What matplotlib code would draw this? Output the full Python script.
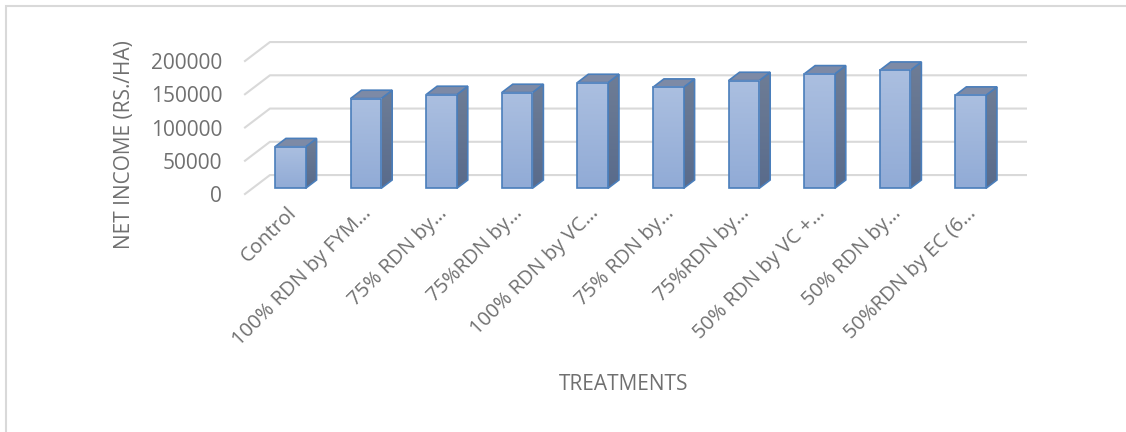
import numpy as np
import matplotlib
matplotlib.use('Agg')
import matplotlib.pyplot as plt
from matplotlib.patches import Polygon, Rectangle
from matplotlib.colors import LinearSegmentedColormap
from matplotlib.transforms import ScaledTranslation

plt.rcParams['font.family'] = ['Open Sans', 'DejaVu Sans']

# data
treatments = ['Control', '100% RDN by FYM…', '75% RDN by…', '75%RDN by…',
              '100% RDN by VC…', '75% RDN by…', '75%RDN by…',
              '50% RDN by VC +…', '50% RDN by…', '50%RDN by EC (6…']
net_income = [62500, 135000, 141000, 144000, 159000, 152000, 162000,
              172000, 177500, 140000]
y_ticks = [0, 50000, 100000, 150000, 200000]

# look of the excel 3d column
txt_col = '#707070'
grid_col = '#d9d9d9'
edge_col = '#4a7ebb'
front_cmap = LinearSegmentedColormap.from_list('front', ['#91abd6', '#abbfe0'])
side_cmap = LinearSegmentedColormap.from_list('side', ['#596b8b', '#6e7d96'])
top_col = '#7d8aa6'
bar_w = 0.405
DX = 0.33       # depth of floor, in category units
DY = 28500      # depth of floor, in value units
d0, d1 = 0.3, 0.74   # bar front/back as fraction of depth

fig = plt.figure(figsize=(11.26, 4.32), dpi=100)
ax = fig.add_axes([245 / 1126, 1 - 194 / 432, 756 / 1126, 133 / 432])
ax.set_facecolor('none')
for s in ax.spines.values():
    s.set_visible(False)

n = len(treatments)
# side wall + back wall gridlines
for v in y_ticks:
    ax.plot([-0.5, -0.5 + DX, n - 0.5 + DX], [v, v + DY, v + DY],
            color=grid_col, lw=1.5, clip_on=False, zorder=1)

for i, v in enumerate(net_income):
    xl = i - bar_w / 2 + d0 * DX
    xr = i + bar_w / 2 + d0 * DX
    yb = d0 * DY
    yt = v + d0 * DY
    ddx = (d1 - d0) * DX
    ddy = (d1 - d0) * DY
    # side face
    side = Polygon([(xr, yb), (xr + ddx, yb + ddy), (xr + ddx, yt + ddy), (xr, yt)],
                   closed=True, facecolor='none', edgecolor=edge_col, lw=1.2,
                   clip_on=False, zorder=3)
    ax.add_patch(side)
    im = ax.imshow(np.linspace(0, 1, 64).reshape(-1, 1), cmap=side_cmap,
                   extent=[xr, xr + ddx, yb, yt + ddy], origin='lower',
                   aspect='auto', zorder=2, clip_on=True)
    im.set_clip_path(side)
    # top face
    ax.add_patch(Polygon([(xl, yt), (xr, yt), (xr + ddx, yt + ddy), (xl + ddx, yt + ddy)],
                         closed=True, facecolor=top_col, edgecolor=edge_col, lw=1.2,
                         clip_on=False, zorder=3))
    # front face
    ax.imshow(np.linspace(0, 1, 64).reshape(-1, 1), cmap=front_cmap,
              extent=[xl, xr, yb, yt], origin='lower', aspect='auto', zorder=4)
    ax.add_patch(Rectangle((xl, yb), xr - xl, yt - yb, facecolor='none',
                           edgecolor=edge_col, lw=1.2, clip_on=False, zorder=5))

ax.set_xlim(-0.5, n - 0.5)
ax.set_ylim(0, 200000)

ax.set_yticks(y_ticks)
ax.set_yticklabels([str(t) for t in y_ticks])
ax.tick_params(axis='y', length=0, pad=16.5, labelsize=15, labelcolor=txt_col)

ax.set_xticks(range(n))
ax.set_xticklabels(treatments, rotation=45, ha='right', rotation_mode='anchor')
ax.tick_params(axis='x', length=0, pad=14.4, labelsize=14.5, labelcolor=txt_col)
shift = ScaledTranslation(14 / 100, 0, fig.dpi_scale_trans)
for lab in ax.get_xticklabels():
    lab.set_va('baseline')
    lab.set_transform(lab.get_transform() + shift)

ax.set_ylabel('NET INCOME (RS./HA)', fontsize=15, color=txt_col)
ax.yaxis.set_label_coords(-0.1455, 0.368)
ax.set_xlabel('TREATMENTS', fontsize=15, color=txt_col)
ax.xaxis.set_label_coords(0.501, -1.35)

# chart border (cropped at right and bottom)
fig.patches.append(Rectangle((6 / 1126, -0.1), 1.2, (432 - 6) / 432 + 0.1,
                             transform=fig.transFigure, facecolor='none',
                             edgecolor=grid_col, lw=1.5))

fig.savefig('out.png', dpi=100)
